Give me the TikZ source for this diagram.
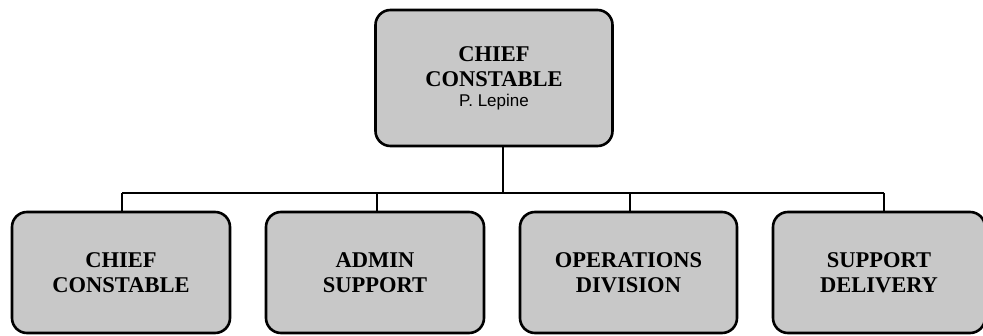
\documentclass[tikz,border=0pt]{standalone}
\usepackage{fontspec}
\setmainfont{Liberation Serif}
\newfontfamily\labelsans{Liberation Sans}
\definecolor{boxgray}{RGB}{200,200,200}
\tikzset{
  orgbox/.style={draw=black, line width=2.6pt, fill=boxgray, rounded corners=15pt,
    inner sep=0pt, align=center, font=\fontsize{22.5}{25}\selectfont\bfseries},
  link/.style={draw=black, line width=2.8pt}
}
\begin{document}
\begin{tikzpicture}[x=1pt,y=1pt]
\useasboundingbox[fill=white] (0,0) rectangle (983,335);
% top box
\node[orgbox, minimum width=237pt, minimum height=136pt] (top) at (494,257)
  {CHIEF\\CONSTABLE\\[-5pt]{\labelsans\mdseries\fontsize{17}{19}\selectfont P. Lepine}};
% bottom boxes
\node[orgbox, minimum width=218pt, minimum height=121pt] (b1) at (121,62.5) {CHIEF\\CONSTABLE};
\node[orgbox, minimum width=218pt, minimum height=121pt] (b2) at (375,62.5) {ADMIN\\SUPPORT};
\node[orgbox, minimum width=217pt, minimum height=121pt] (b3) at (628.5,62.5) {OPERATIONS\\DIVISION};
\node[orgbox, minimum width=212pt, minimum height=121pt] (b4) at (879,62.5) {SUPPORT\\DELIVERY};
% connectors
\coordinate (bus) at (503,142);
\coordinate (busL) at (122,142);
\coordinate (busR) at (884,142);
\draw[link] (top.south -| bus) -- (bus);
\draw[link] (busL) -- (busR);
\draw[link] (busL) -- (busL |- b1.north);
\draw[link] (377,142) -- (377,122.5);
\draw[link] (630,142) -- (630,122.5);
\draw[link] (busR) -- (busR |- b4.north);
\end{tikzpicture}
\end{document}
